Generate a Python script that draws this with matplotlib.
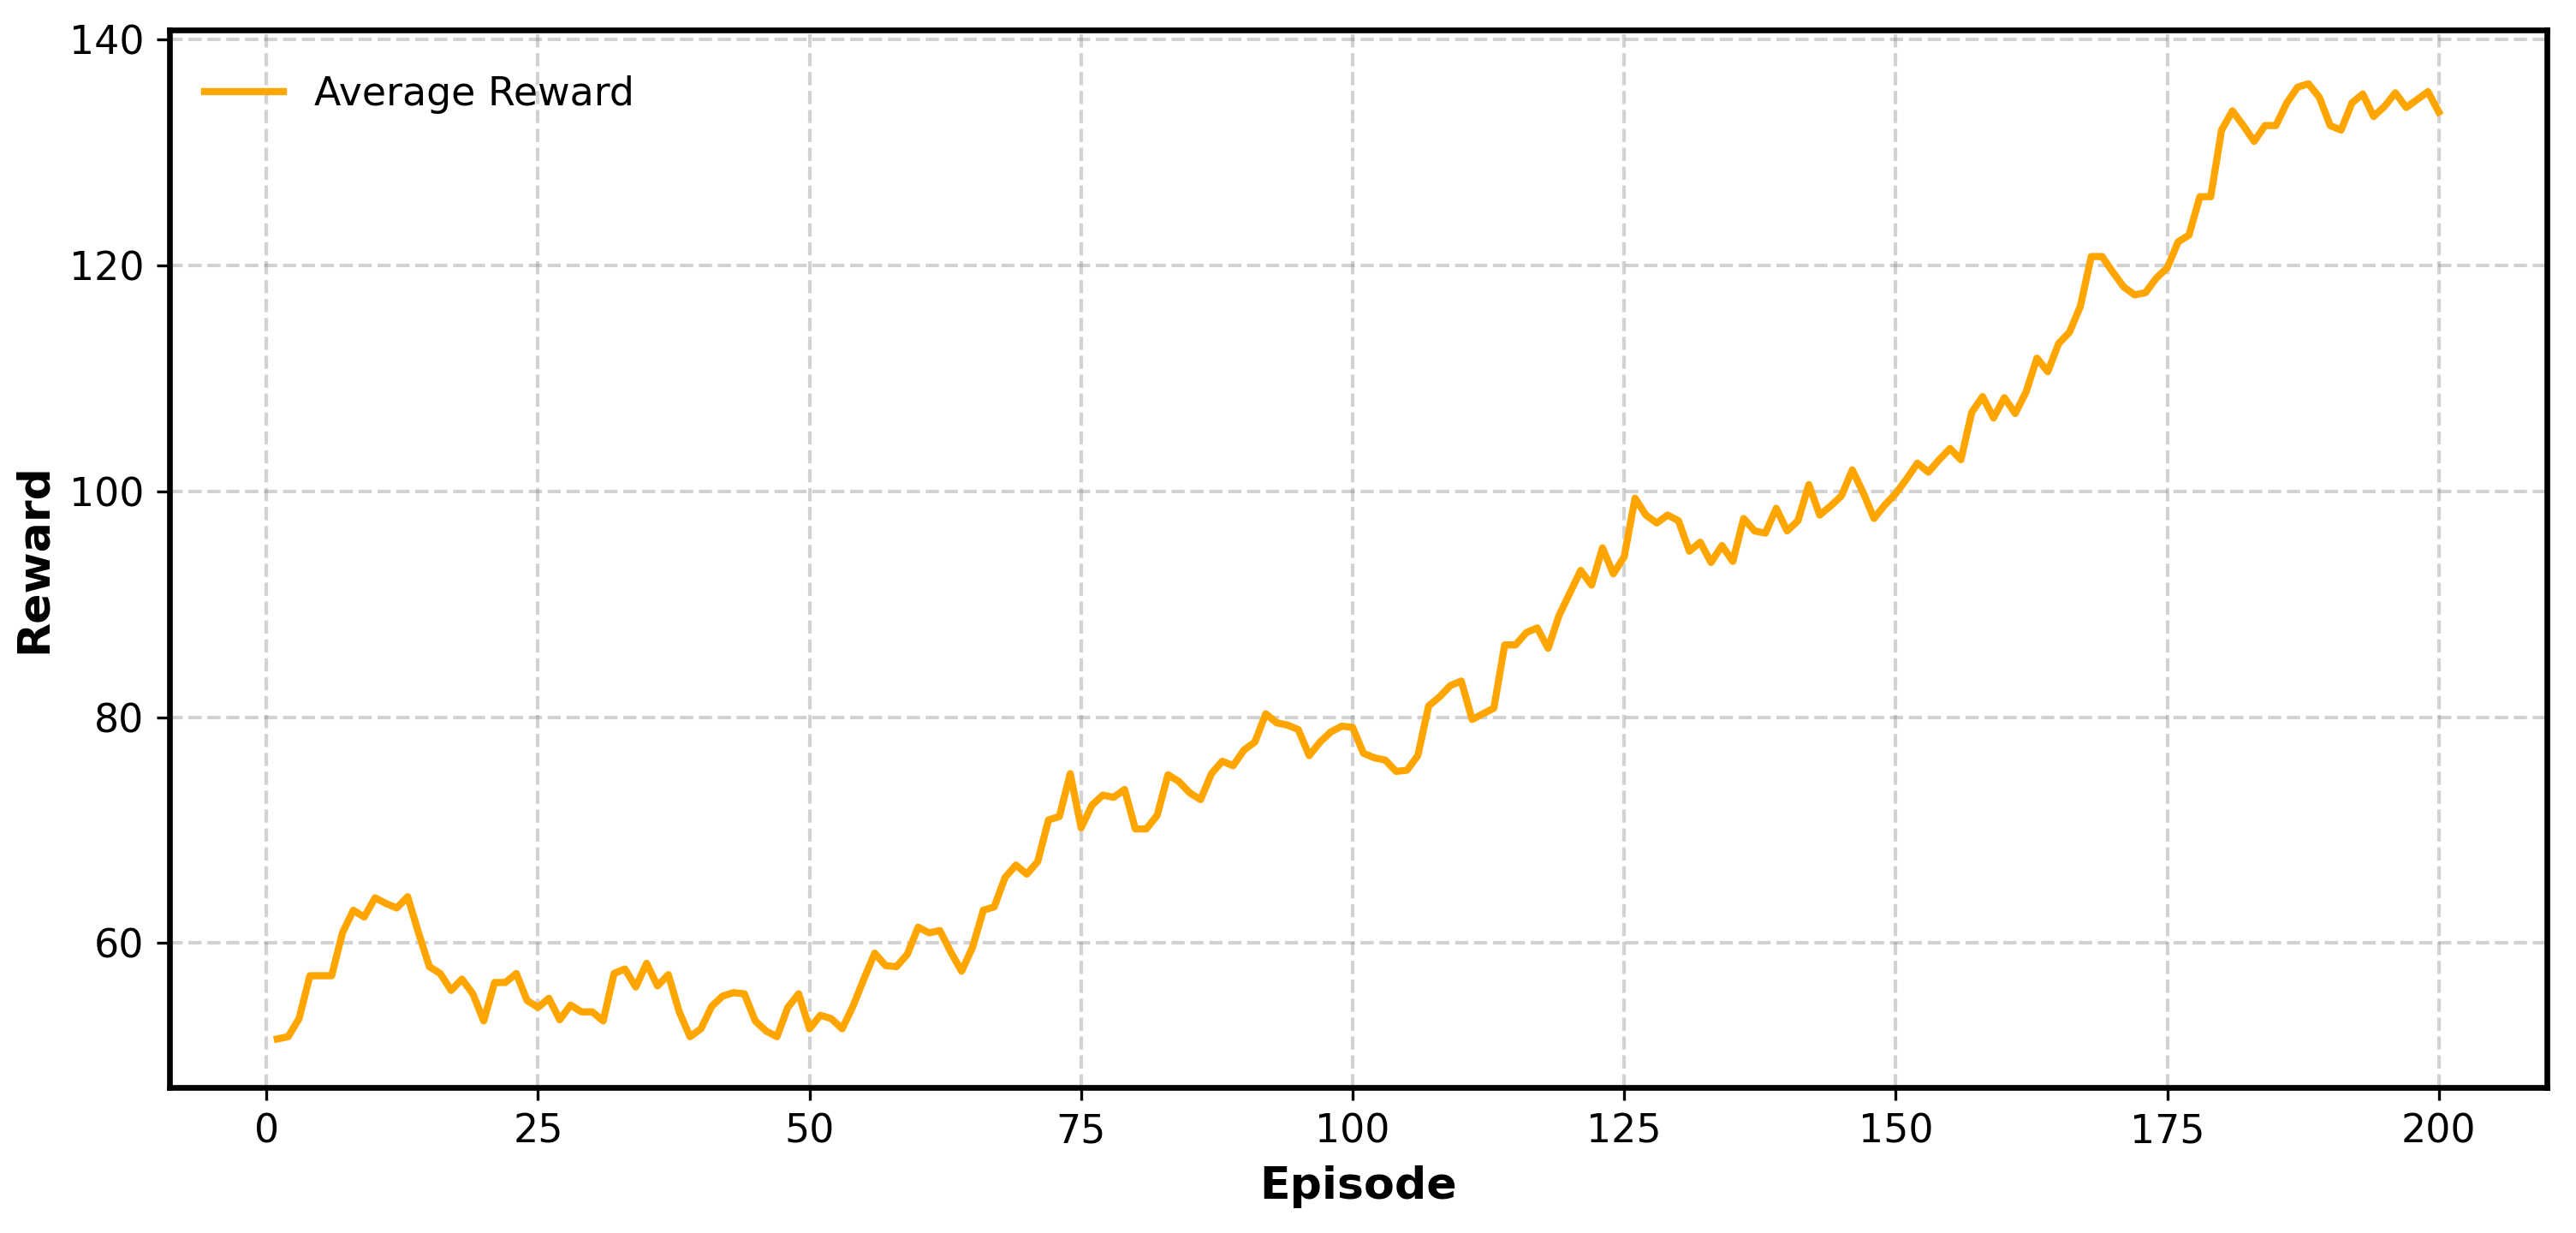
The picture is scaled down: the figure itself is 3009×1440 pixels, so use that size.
import numpy as np
import matplotlib
matplotlib.use('Agg')
import matplotlib.pyplot as plt

# average reward per episode
episodes = np.arange(1, 201)
reward = [
    51.5, 51.7, 53.3, 57.1, 57.1, 57.1, 60.9, 62.9, 62.3, 64.0,
    63.5, 63.1, 64.1, 60.9, 57.9, 57.3, 55.8, 56.8, 55.5, 53.1,
    56.5, 56.5, 57.3, 54.9, 54.3, 55.1, 53.2, 54.5, 53.9, 53.9,
    53.1, 57.3, 57.7, 56.1, 58.2, 56.2, 57.2, 53.9, 51.7, 52.4,
    54.4, 55.3, 55.6, 55.5, 53.1, 52.2, 51.7, 54.3, 55.5, 52.4,
    53.6, 53.3, 52.4, 54.4, 56.8, 59.1, 58.0, 57.9, 59.0, 61.4,
    60.9, 61.1, 59.2, 57.5, 59.6, 62.9, 63.2, 65.8, 66.9, 66.1,
    67.2, 70.9, 71.2, 75.0, 70.2, 72.2, 73.1, 72.9, 73.6, 70.1,
    70.1, 71.3, 74.9, 74.3, 73.3, 72.7, 75.0, 76.1, 75.7, 77.1,
    77.8, 80.3, 79.5, 79.3, 78.9, 76.6, 77.8, 78.7, 79.2, 79.1,
    76.8, 76.4, 76.2, 75.2, 75.3, 76.6, 81.0, 81.8, 82.8, 83.2,
    79.8, 80.3, 80.8, 86.4, 86.4, 87.5, 87.9, 86.1, 89.0, 91.0,
    93.0, 91.7, 95.0, 92.7, 94.2, 99.4, 97.9, 97.2, 97.9, 97.4,
    94.7, 95.5, 93.7, 95.2, 93.8, 97.6, 96.5, 96.3, 98.5, 96.5,
    97.4, 100.6, 97.9, 98.7, 99.6, 101.9, 99.9, 97.6, 98.8, 99.8,
    101.1, 102.5, 101.7, 102.8, 103.8, 102.8, 107.0, 108.4, 106.5, 108.3,
    106.9, 108.8, 111.8, 110.6, 113.1, 114.1, 116.4, 120.8, 120.8, 119.4,
    118.1, 117.4, 117.6, 118.9, 119.8, 122.1, 122.7, 126.1, 126.1, 132.0,
    133.7, 132.4, 131.0, 132.4, 132.4, 134.4, 135.8, 136.1, 134.9, 132.4,
    132.0, 134.4, 135.2, 133.2, 134.1, 135.3, 134.0, 134.7, 135.4, 133.6,
]

fig = plt.figure(figsize=(10.03, 4.8), dpi=300)
ax = fig.add_axes([0.0657, 0.118, 0.923, 0.858])

ax.plot(episodes, reward, color='orange', linewidth=2, label='Average Reward')

ax.set_xlabel('Episode', fontsize=12.5, fontweight='bold')
ax.set_ylabel('Reward', fontsize=12.5, fontweight='bold')
ax.tick_params(labelsize=11)
ax.set_xticks(np.arange(0, 201, 25))
ax.set_yticks(np.arange(60, 141, 20))
ax.set_ylim(47.2, 140.9)
ax.grid(True, linestyle='--', color='gray', alpha=0.35, linewidth=1)
for s in ax.spines.values():
    s.set_linewidth(1.6)
    s.set_color('black')

ax.legend(loc='upper left', bbox_to_anchor=(0, 0.99), frameon=False, fontsize=11)

fig.savefig('out.png', dpi=300)
